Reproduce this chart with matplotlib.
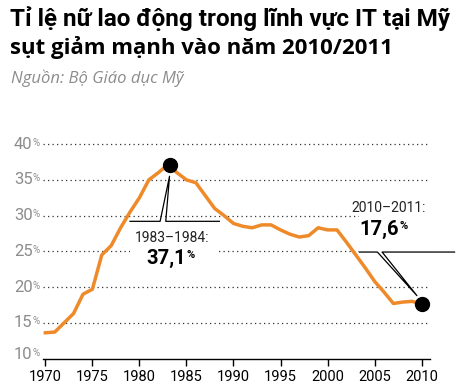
import matplotlib
matplotlib.use("Agg")
import matplotlib.pyplot as plt
from matplotlib.patches import Rectangle
from matplotlib import font_manager

# ========================
# DATA
# ========================

years = list(range(1970, 2011))
share = [13.6, 13.7, 15.0, 16.3, 19.0, 19.7, 24.5, 25.8, 28.3, 30.5,
         32.5, 35.0, 36.0, 37.1, 36.0, 35.0, 34.6, 32.8, 31.0, 30.0,
         28.9, 28.5, 28.3, 28.7, 28.7, 28.0, 27.4, 27.0, 27.2, 28.3,
         28.0, 28.0, 26.3, 24.5, 22.7, 20.8, 19.3, 17.7, 17.9, 18.0,
         17.6]

y_ticks = [10, 15, 20, 25, 30, 35, 40]
x_ticks = [1970, 1975, 1980, 1985, 1990, 1995, 2000, 2005, 2010]

peak_year, peak_val = 1983.2, 37.1
peak_label, peak_num = "1983–1984:", "37,1"
last_year, last_val = 2010, 17.6
last_label, last_num = "2010–2011:", "17,6"

title1 = "Tỉ lệ nữ lao động trong lĩnh vực IT tại Mỹ"
title2 = "sụt giảm mạnh vào năm 2010/2011"
source = "Nguồn: Bộ Giáo dục Mỹ"

# ========================
# FONTS
# ========================

names = {f.name for f in font_manager.fontManager.ttflist}
narrow = "Liberation Sans Narrow" if "Liberation Sans Narrow" in names else "Roboto"
NARROW = [narrow, "DejaVu Sans"]
OPEN = ["Open Sans", "DejaVu Sans"]

ORANGE = "#ee8a2a"
GREY = "#8c8c8c"

# ========================
# FIGURE
# ========================

fig = plt.figure(figsize=(4.59, 3.91), dpi=100)
ax = fig.add_axes([0.0937, 0.0831, 0.8433, 0.5665])

ax.set_xlim(1969.75, 2010.9)
ax.set_ylim(10, 41)

# dotted grid
for v in y_ticks[1:]:
    ax.axhline(v, color="#333333", lw=0.9, ls=(0, (1, 2.6)), zorder=1)

# white gaps behind the callout labels
ax.add_patch(Rectangle((1979.0, 23.0), 9.5, 6.2, facecolor="white",
                       edgecolor="none", zorder=2))
ax.add_patch(Rectangle((2003.3, 24.9), 8.0, 6.7, facecolor="white",
                       edgecolor="none", zorder=2, clip_on=False))

ax.plot(years, share, color=ORANGE, lw=2.5, solid_joinstyle="round",
        zorder=3)

# callout 1 (peak)
ax.plot([1979.0, 1982.2, 1983.2, 1982.8, 1988.5],
        [29.2, 29.2, 35.5, 29.2, 29.2], color="black", lw=0.9, zorder=4)
ax.plot([peak_year], [peak_val], "o", color="black", ms=10, zorder=5)
ax.text(1983.5, 26.8, peak_label, family=NARROW, fontsize=10,
        ha="center", va="center", color="#222222", zorder=6)
ax.text(1985.0, 24.0, peak_num, family=NARROW, fontsize=14.5,
        fontweight="bold", ha="right", va="center", color="black", zorder=6)
ax.text(1985.05, 24.5, "%", family=NARROW, fontsize=8,
        fontweight="bold", ha="left", va="center", color="black", zorder=6)

# callout 2 (last value)
ax.plot([2003.4, 2005.3, 2009.5, 2005.8, 2013.5],
        [24.9, 24.9, 18.8, 24.9, 24.9], color="black", lw=0.9, zorder=4,
        clip_on=False)
ax.plot([last_year], [last_val], "o", color="black", ms=10, zorder=5,
        clip_on=False)
ax.text(2006.5, 31.1, last_label, family=NARROW, fontsize=10,
        ha="center", va="center", color="#222222", zorder=6)
ax.text(2007.6, 28.0, last_num, family=NARROW, fontsize=14.5,
        fontweight="bold", ha="right", va="center", color="black", zorder=6)
ax.text(2007.65, 28.5, "%", family=NARROW, fontsize=8,
        fontweight="bold", ha="left", va="center", color="black", zorder=6)

# axes styling
for s in ["top", "right", "left"]:
    ax.spines[s].set_visible(False)
ax.spines["bottom"].set_linewidth(1.0)
ax.set_xticks(x_ticks)
ax.set_xticklabels([str(x) for x in x_ticks], family=NARROW, fontsize=10.5)
ax.tick_params(axis="x", length=5, width=1, pad=3)
ax.set_yticks([])

# y labels with small percent sign
ytr = ax.get_yaxis_transform()
for v in y_ticks:
    yy = v + 0.6 if v == 10 else v
    ax.text(-0.027, yy, str(v), transform=ytr, family=NARROW, fontsize=12,
            color=GREY, ha="right", va="center")
    ax.text(-0.027, yy + 0.2, "%", transform=ytr, family=NARROW, fontsize=7,
            color=GREY, ha="left", va="center")

# titles
fig.text(0.022, 0.952, title1, family=NARROW, fontsize=17.5,
         fontweight="bold", ha="left", va="center")
fig.text(0.022, 0.878, title2, family=OPEN, fontsize=16,
         fontweight="bold", ha="left", va="center")
fig.text(0.024, 0.800, source, family=OPEN, fontsize=12,
         style="italic", color=GREY, ha="left", va="center")

fig.savefig("out.png", dpi=100)
